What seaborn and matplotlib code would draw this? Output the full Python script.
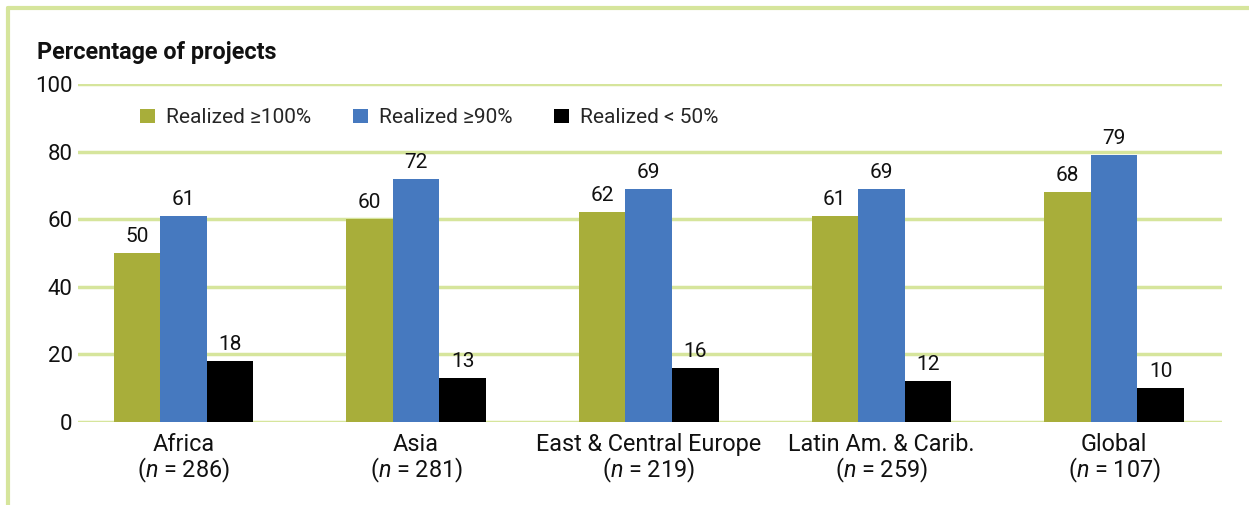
import numpy as np
import pandas as pd
import matplotlib
matplotlib.use("Agg")
import matplotlib.pyplot as plt
from matplotlib.lines import Line2D
import seaborn as sns

regions = ["Africa", "Asia", "East & Central Europe", "Latin Am. & Carib.", "Global"]
counts = [286, 281, 219, 259, 107]
series = ["Realized \u2265100%", "Realized \u226590%", "Realized < 50%"]
realized_100 = [50, 60, 62, 61, 68]
realized_90 = [61, 72, 69, 69, 79]
realized_50 = [18, 13, 16, 12, 10]
yticks = [0, 20, 40, 60, 80, 100]

colors = ["#a8ae3a", "#4679bf", "#000000"]
grid_color = "#d6e59c"

sns.set_theme(style="white")
plt.rcParams["font.family"] = ["Roboto", "DejaVu Sans"]
plt.rcParams["mathtext.fontset"] = "custom"
plt.rcParams["mathtext.it"] = "Roboto:italic"
plt.rcParams["mathtext.rm"] = "Roboto"

# long table for seaborn
df = pd.DataFrame({
    "region": regions * 3,
    "series": np.repeat(series, len(regions)),
    "value": realized_100 + realized_90 + realized_50,
})

fig = plt.figure(figsize=(12.49, 5.05), dpi=100)
ax = fig.add_axes([0.0625, 0.1644, 0.9155, 0.6693])

sns.barplot(data=df, x="region", y="value", hue="series", hue_order=series,
            palette=colors, width=0.6, saturation=1, linewidth=0,
            ax=ax, legend=True)

ax.set_ylim(0, 100)
ax.set_yticks(yticks)
ax.set_xlim(-0.453, len(regions) - 1 + 0.462)
for y in yticks:
    ax.axhline(y, color=grid_color, lw=2.5, zorder=0)
for s in ax.spines.values():
    s.set_visible(False)
ax.tick_params(axis="both", length=0, colors="#111111")
ax.tick_params(axis="y", pad=4, labelsize=16)
ax.tick_params(axis="x", pad=8, labelsize=16.8)
ax.set_xticks(range(len(regions)))
ax.set_xticklabels([f"{r}\n($n$ = {n})" for r, n in zip(regions, counts)],
                   linespacing=0.98)
ax.set_xlabel("")
ax.set_ylabel("")

# value labels
for cont in ax.containers:
    ax.bar_label(cont, labels=[f"{v:.0f}" for v in cont.datavalues],
                 padding=5, fontsize=15, color="#111111")

leg = ax.legend(loc="center left", bbox_to_anchor=(0.038, 0.9), ncol=3,
                frameon=False, fontsize=15, handlelength=0.7,
                handleheight=0.7, handletextpad=0.55, columnspacing=2.0)

fig.text(0.030, 0.897, "Percentage of projects", fontsize=16.8,
         fontweight="bold", color="#111111", va="center", ha="left")

# light green frame on top and left
fig.add_artist(Line2D([0.0065, 1.0], [0.984, 0.984], color=grid_color, lw=3,
                      transform=fig.transFigure))
fig.add_artist(Line2D([0.0065, 0.0065], [0.0, 0.984], color=grid_color, lw=3,
                      transform=fig.transFigure))

fig.savefig("out.png", dpi=100)
